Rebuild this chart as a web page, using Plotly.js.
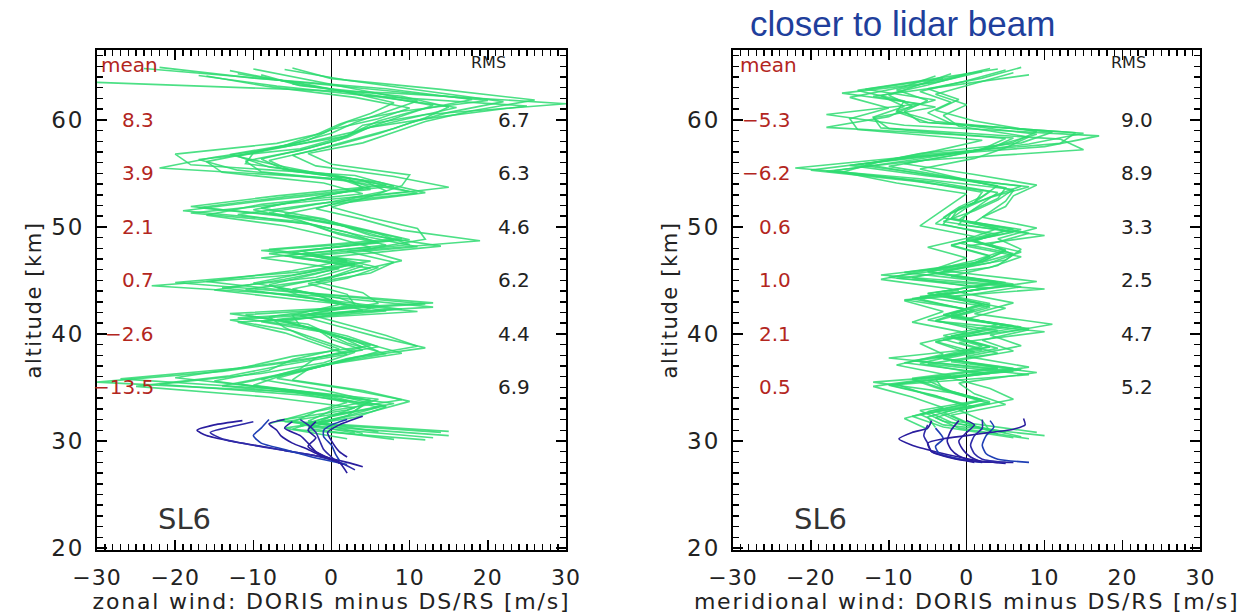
<!DOCTYPE html>
<html>
<head>
<meta charset="utf-8">
<script src="https://cdn.plot.ly/plotly-3.0.1.min.js"></script>
<style>
  html, body { margin: 0; padding: 0; background: #ffffff; }
  #chart { width: 1255px; height: 614px; }
  #chart .xtitle, #chart .x2title { letter-spacing: 1.8px; }
  #chart .ytitle, #chart .y2title { letter-spacing: 1.6px; }
  #chart .xtick text, #chart .x2tick text { letter-spacing: 1px; }
  #chart .ytick text, #chart .y2tick text { letter-spacing: 2px; }
</style>
</head>
<body>
<div id="chart"></div>
<script>
// Altitude grid (km) shared by all DORIS - DS/RS difference profiles
const profileAlt = [30.5, 31.5, 32.5, 33.5, 34.5, 35.5, 36.5, 37.5, 38.5, 39.5,
                    40.5, 41.5, 42.5, 43.5, 44.5, 45.5, 46.5, 47.5, 48.5, 49.5,
                    50.5, 51.5, 52.5, 53.5, 54.5, 55.5, 56.5, 57.5, 58.5, 59.5,
                    60.5, 61.5, 62.5, 63.5, 64.5];

// Level offset (km) of each profile relative to the shared grid
const zonalAltOffset = [0.0, 0.3, -0.2, 0.4, -0.4, 0.2, -0.3, 0.1, 0.35, -0.15, 0.25, -0.35];
const meridAltOffset = [0.0, -0.3, 0.25, 0.4, -0.2, 0.15, -0.4, 0.3, -0.1, 0.35, -0.25];

// Zonal wind differences (m/s), one row per profile
const zonalGreen = [
  [15,-4,1,8,-3,-30,-14,-4,4,0,-2,-12,13,-1,-23,-5,3,-8,6,2,-4,-19,-8,5,1,-22,-15,-6,2,4,12,30,8,-30,null],
  [14,-6,3,5,-6,-27,-12,-2,6,2,-4,-11,12,-3,-20,-4,5,-9,10,4,-2,-17,-6,8,3,-18,-20,-7,-1,2,9,20,6,-8,-24],
  [13,-3,0,7,-4,-22,-9,-1,3,-1,-5,-13,9,-2,-14,-2,3,-6,7,1,-3,-18,-4,10,2,-12,-17,-4,1,5,14,25,4,-3,-12],
  [15,-7,2,6,-7,-20,-11,-5,5,0,-3,-13,13,-4,-16,-5,2,-8,9,3,-5,-18,-7,7,0,-11,-10,-3,3,6,11,18,7,-10,-22],
  [12,-5,-1,3,-8,-25,-13,-6,2,-2,-6,-12,11,-3,-15,-6,1,-9,5,0,-6,-16,-9,4,-1,-14,-16,-9,-3,0,6,10,3,-8,-16],
  [4,-2,5,10,4,-5,-3,2,12,6,1,-4,3,2,-3,5,8,2,19,9,4,-2,3,15,8,-2,-5,1,6,10,15,22,12,2,-6],
  [2,-6,3,7,1,-10,-6,0,9,4,-1,-6,4,0,-5,2,6,0,14,5,1,-6,1,12,6,-5,-8,-2,3,8,12,15,9,-4,-9],
  [null,-8,-3,2,-5,-15,-8,-5,1,-3,-6,-8,2,-4,-8,-2,3,-5,6,0,-4,-10,-3,4,2,-8,-12,-6,-2,1,5,8,2,-6,-13],
  [6,-3,0,9,2,-7,-2,3,11,7,2,-3,6,4,-2,3,9,4,12,11,5,0,5,9,10,0,-3,4,8,12,18,26,14,0,-5],
  [null,-4,2,4,-2,-12,-5,1,6,3,-2,-7,5,1,-7,0,4,-3,10,6,0,-8,0,7,4,-6,-9,-3,2,5,9,13,5,-5,null],
  [3,-5,-2,5,-1,-9,-4,-2,4,1,-4,-5,1,-2,-10,-3,2,-4,8,3,-1,-9,-2,5,0,-7,-13,-5,0,3,7,11,4,-3,-10],
  [8,-3,1,6,0,-14,-7,-1,7,2,-1,-9,7,-1,-11,-1,5,-5,11,4,-2,-12,-2,11,5,-9,-11,-4,1,4,10,16,6,-7,-17]
];

// Meridional wind differences (m/s), one row per profile
const meridGreen = [
  [10,-3,-6,3,-2,-12,6,-7,2,-3,8,-2,3,-6,6,-11,1,6,-1,6,-3,1,4,6,-6,-22,-8,10,17,-8,-18,-6,-16,-4,2],
  [8,-1,-4,1,-4,-10,8,-5,4,-1,10,-4,1,-8,10,-9,3,7,0,10,-1,0,2,4,-4,-18,-6,15,12,-10,-12,-4,-12,-2,8],
  [5,-2,-5,2,-3,-7,4,-10,3,-2,6,-3,2,-5,4,-8,2,5,1,7,-2,-1,3,8,-5,-15,-3,8,15,-5,-9,-8,-14,-5,4],
  [3,2,-1,6,3,-2,8,0,7,3,11,1,6,-1,9,-3,5,7,4,9,2,5,6,9,1,-8,0,6,9,1,-4,-1,-5,2,7],
  [6,-3,-7,0,-5,-9,3,-8,1,-4,4,-5,0,-7,3,-10,0,3,-2,4,-4,-2,1,3,-7,-20,-9,3,6,-18,-10,-7,-10,-6,-2],
  [4,0,-3,3,-2,-5,7,-3,4,-1,7,-2,3,-3,6,-4,3,7,1,5,-1,1,4,5,-2,-10,-2,4,9,-2,-5,-2,-6,0,5],
  [null,-5,-8,-3,-7,-12,-2,-9,-3,-6,0,-7,-3,-8,-1,-11,-4,0,-5,1,-6,-4,-2,0,-9,-16,-11,-4,2,-14,-15,-10,-15,-8,-4],
  [9,-1,-4,2,-3,-4,6,-4,3,-2,5,-3,2,-5,5,-5,2,5,0,6,-2,0,3,7,-4,-14,-5,12,14,-6,-8,-5,-9,-3,3],
  [7,1,-2,5,1,-1,9,-2,6,2,8,0,5,-2,7,-2,4,6,3,8,1,3,5,6,0,-6,1,5,8,-1,-3,0,-4,1,6],
  [5,-3,-6,2,-3,-7,4,-4,2,-3,4,-2,3,-4,4,-5,1,5,0,4,-3,-1,2,4,-5,-13,-6,7,11,-4,-9,-4,-13,-3,null],
  [null,-4,-5,0,-4,-10,2,-6,0,-4,2,-4,0,-6,2,-7,0,3,-2,3,-3,-2,1,2,-6,-17,-7,2,5,-11,-12,-8,-11,-5,0]
];

// Lower-altitude profiles (radiosonde range), zonal component
const zonalBlueX = [
  [-11.4,-15,-17.2,-16,-13,-9,-5,-1,2,4],
  [-10,-13,-15.5,-14,-10,-6,-2,1,3],
  [-8,-9,-10,-9,-6,-3,0,2],
  [-6,-8,-7,-6.5,-5,-3,-1,1],
  [-5,-6,-4,-3,-2,0,1.5],
  [-4,-3,-2,-1.5,-1,0,1],
  [2,0,-1,-1,0,0.5,1],
  [-2,-3,-2,-3,-1,1,2],
  [4,1,-0.5,0,1,2]
];
const zonalBlueAlt = [
  [31.9,31.5,31.0,30.5,30.0,29.5,29.0,28.5,28.0,27.6],
  [31.8,31.3,30.8,30.2,29.6,29.1,28.6,28.0,27.3],
  [32.0,31.2,30.5,29.8,29.2,28.6,28.1,27.8],
  [32.0,31.6,31.0,30.5,29.8,29.2,28.5,28.0],
  [31.8,31.2,30.5,29.8,29.0,28.3,27.8],
  [32.0,31.5,30.8,30.0,29.2,28.5,27.9],
  [32.0,31.5,31.0,30.4,29.6,28.8,28.2],
  [31.8,31.0,30.3,29.5,28.6,28.0,27.0],
  [32.3,31.5,30.8,30.0,29.0,28.5]
];

// Lower-altitude profiles (radiosonde range), meridional component
const meridBlueX = [
  [-4.5,-5,-7,-8.7,-7,-4,-1,2,5],
  [-5,-5.5,-5,-4.5,-2,1,4],
  [-4,-3,-4,-3.5,-1,2],
  [-1,-2,-2.5,-2,-1,1,6],
  [0,1,0,-1,-0.5,0.5,2],
  [2,2,1,0.5,1,2,5],
  [3,3.5,2.5,2,2.5,4,8],
  [7.3,7.5,6,3,0,-3,-5,-4.5,-2,1]
];
const meridBlueAlt = [
  [31.9,31.2,30.8,30.2,29.6,29.0,28.5,28.1,27.9],
  [31.5,30.5,29.8,29.0,28.5,28.1,28.0],
  [31.2,30.2,29.5,28.8,28.3,28.0],
  [31.9,31.0,30.0,29.2,28.6,28.1,28.0],
  [31.9,31.5,30.8,30.0,29.2,28.5,28.0],
  [32.0,31.2,30.5,29.6,28.8,28.3,28.0],
  [31.9,31.3,30.5,29.6,28.8,28.3,28.0],
  [32.1,31.5,31.1,30.8,30.5,30.2,29.8,29.0,28.4,28.0]
];

// Layer statistics printed in each panel
const statAlt = [60, 55, 50, 45, 40, 35];
const zonalMean = ['8.3', '3.9', '2.1', '0.7', '\u22122.6', '\u221213.5'];
const zonalRms = ['6.7', '6.3', '4.6', '6.2', '4.4', '6.9'];
const meridMean = ['\u22125.3', '\u22126.2', '0.6', '1.0', '2.1', '0.5'];
const meridRms = ['9.0', '8.9', '3.3', '2.5', '4.7', '5.2'];

const X_RANGE = [-30, 30];
const Y_RANGE = [19.8, 66.55];
const Y_DOMAIN = [0.104, 0.919];
const X1_DOMAIN = [0.0773, 0.451];
const X2_DOMAIN = [0.584, 0.9565];
const GREEN = 'rgba(45,218,112,0.85)';
const BLUE_SHADES = ['#2a1d9e', '#2f2aa8', '#1f3fb5', '#2a1d9e'];
const FONT = 'DejaVu Sans, sans-serif';

const traces = [];
function addGreen(rows, offsets, xa, ya) {
  rows.forEach((r, i) => traces.push({
    x: r, y: profileAlt.map(a => a + offsets[i]), xaxis: xa, yaxis: ya,
    type: 'scatter', mode: 'lines',
    line: { color: GREEN, width: 1.6 }, connectgaps: false, hoverinfo: 'skip'
  }));
}
function addBlue(xs, alts, xa, ya) {
  xs.forEach((r, i) => traces.push({
    x: r, y: alts[i], xaxis: xa, yaxis: ya, type: 'scatter', mode: 'lines',
    line: { color: BLUE_SHADES[i % BLUE_SHADES.length], width: 1.6, shape: 'spline', smoothing: 0.6 },
    hoverinfo: 'skip'
  }));
}
addGreen(zonalGreen, zonalAltOffset, 'x', 'y');
addBlue(zonalBlueX, zonalBlueAlt, 'x', 'y');
addGreen(meridGreen, meridAltOffset, 'x2', 'y2');
addBlue(meridBlueX, meridBlueAlt, 'x2', 'y2');

// invisible anchor points so the fine-tick overlay axes are drawn
[['x3', 'y3'], ['x4', 'y4']].forEach(p => traces.push({
  x: [0], y: [40], xaxis: p[0], yaxis: p[1], type: 'scatter', mode: 'markers',
  marker: { size: 1, opacity: 0 }, hoverinfo: 'skip'
}));

function xAxis(domain, anchor, titleText) {
  return {
    domain: domain, anchor: anchor, range: X_RANGE, layer: 'above traces',
    tickmode: 'linear', tick0: -30, dtick: 10,
    ticks: 'inside', ticklen: 10, tickwidth: 1.5, tickcolor: '#000', ticklabelstandoff: 6,
    minor: { tickmode: 'linear', tick0: 0, dtick: 1, ticks: 'inside', ticklen: 6, tickwidth: 1.5, tickcolor: '#000' },
    showline: true, linecolor: '#000', linewidth: 2, mirror: 'allticks',
    showgrid: false, zeroline: true, zerolinecolor: '#000', zerolinewidth: 1.3,
    tickfont: { family: FONT, size: 22, color: '#222' },
    title: { text: titleText, font: { family: FONT, size: 22, color: '#222' }, standoff: 0 }
  };
}
function yAxis(anchor) {
  return {
    domain: Y_DOMAIN, anchor: anchor, range: Y_RANGE, layer: 'above traces',
    tickmode: 'linear', tick0: 20, dtick: 10,
    ticks: 'inside', ticklen: 10, tickwidth: 1.5, tickcolor: '#000', ticklabelstandoff: 6,
    minor: { tickmode: 'linear', tick0: 0, dtick: 1, ticks: 'inside', ticklen: 6, tickwidth: 1.5, tickcolor: '#000' },
    showline: true, linecolor: '#000', linewidth: 2, mirror: 'allticks',
    showgrid: false, zeroline: false,
    tickfont: { family: FONT, size: 23, color: '#222' },
    title: { text: 'altitude [km]', font: { family: FONT, size: 21, color: '#222' }, standoff: 8 }
  };
}
// overlay axes carrying the 1-unit fine ticks on all four sides
function fineAxis(overlay, anchor, range, domain) {
  return {
    overlaying: overlay, anchor: anchor, range: range, domain: domain,
    tickmode: 'linear', tick0: 0, dtick: 1,
    ticks: 'inside', ticklen: 6, tickwidth: 1.5, tickcolor: '#000', mirror: 'ticks',
    showticklabels: false, showline: false, showgrid: false, zeroline: false
  };
}

const annotations = [];
function addStats(xa, ya, means, rms, meanX, rmsX, meanLabelX, rmsLabelX) {
  annotations.push({ xref: xa, yref: ya, x: meanLabelX, y: 65.1, text: 'mean', showarrow: false,
    xanchor: 'left', font: { family: FONT, size: 20, color: '#b3261e' } });
  annotations.push({ xref: xa, yref: ya, x: rmsLabelX, y: 65.4, text: 'RMS', showarrow: false,
    xanchor: 'center', font: { family: FONT, size: 16, color: '#222' } });
  statAlt.forEach((a, i) => {
    annotations.push({ xref: xa, yref: ya, x: meanX, y: a, text: means[i], showarrow: false,
      xanchor: 'right', font: { family: FONT, size: 20, color: '#b3261e' } });
    annotations.push({ xref: xa, yref: ya, x: rmsX, y: a, text: rms[i], showarrow: false,
      xanchor: 'right', font: { family: FONT, size: 20, color: '#222' } });
  });
  annotations.push({ xref: xa, yref: ya, x: -22.4, y: 22.7, text: 'SL6', showarrow: false,
    xanchor: 'left', font: { family: FONT, size: 29, color: '#333' } });
}
addStats('x', 'y', zonalMean, zonalRms, -22.4, 25.6, -29.7, 20.1);
addStats('x2', 'y2', meridMean, meridRms, -22.3, 24.2, -29.4, 20.8);

const layout = {
  width: 1255, height: 614,
  margin: { l: 0, r: 0, t: 0, b: 0 },
  paper_bgcolor: '#ffffff', plot_bgcolor: 'rgba(0,0,0,0)',
  showlegend: false,
  xaxis: xAxis(X1_DOMAIN, 'y', 'zonal wind: DORIS minus DS/RS [m/s]'),
  yaxis: yAxis('x'),
  xaxis2: xAxis(X2_DOMAIN, 'y2', 'meridional wind: DORIS minus DS/RS [m/s]'),
  yaxis2: yAxis('x2'),
  xaxis3: fineAxis('x', 'y3', X_RANGE, X1_DOMAIN),
  yaxis3: fineAxis('y', 'x3', Y_RANGE, Y_DOMAIN),
  xaxis4: fineAxis('x2', 'y4', X_RANGE, X2_DOMAIN),
  yaxis4: fineAxis('y2', 'x4', Y_RANGE, Y_DOMAIN),
  annotations: annotations.concat([{
    xref: 'paper', yref: 'paper', x: 0.7195, y: 0.962, text: 'closer to lidar beam',
    showarrow: false, xanchor: 'center', yanchor: 'middle',
    font: { family: 'Liberation Sans, Arial, sans-serif', size: 35, color: '#1f3f9c' }
  }])
};

Plotly.newPlot('chart', traces, layout, { displayModeBar: false, staticPlot: true });
</script>
</body>
</html>
